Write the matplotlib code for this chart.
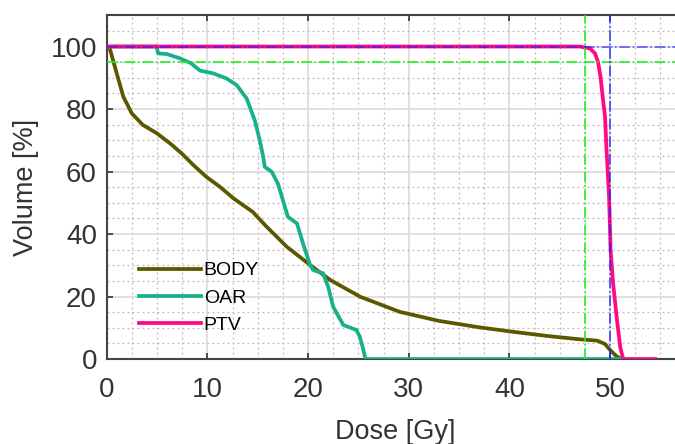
import matplotlib
matplotlib.use("Agg")
import matplotlib.pyplot as plt
from matplotlib.ticker import MultipleLocator

plt.rcParams['font.family'] = ['Liberation Sans', 'DejaVu Sans']

# DVH curves (dose in Gy, volume in %)
body_dose = [0, 0.3, 1.0, 1.65, 2.5, 3.6, 5.0, 6.3, 7.45, 8.6, 9.9, 11.25, 12.6, 14.5,
             15.9, 17.9, 20.2, 22.2, 25.2, 29.1, 33.0, 37.1, 40.4, 43.7, 47.0, 48.7,
             49.5, 50.0, 50.6, 51.1]
body_vol = [100, 99.5, 91.4, 84, 78.6, 74.9, 72.2, 69, 65.8, 62.1, 58.3, 55.1, 51.4, 47.1,
            42.3, 35.9, 30.1, 25.3, 19.9, 15.1, 12.2, 10.1, 8.7, 7.4, 6.3, 5.9,
            4.8, 2.9, 1.0, 0]

oar_dose = [0, 4.97, 5.1, 5.96, 7.3, 8.4, 9.27, 10.6, 11.9, 12.9, 13.9, 14.7, 15.2, 15.55,
            15.7, 16.4, 17.0, 17.2, 18.0, 18.9, 19.5, 20.2, 20.5, 21.5, 22.0, 22.5,
            23.5, 24.8, 25.15, 25.5, 25.7, 51.2]
oar_vol = [100, 100, 97.8, 97.6, 96.2, 94.6, 92.3, 91.4, 89.8, 87.7, 83.4, 76.5, 70.1, 64.7,
           61.5, 59.9, 56.2, 54.1, 45.5, 43.4, 37, 30.1, 28.5, 27.4, 23.1, 16.7,
           10.9, 9.3, 7.1, 2.9, 0, 0]

ptv_dose = [0, 47.0, 48.0, 48.5, 48.8, 49.05, 49.3, 49.5, 49.65, 49.9, 50.05, 50.3,
            50.65, 51.0, 51.3, 54.5]
ptv_vol = [100, 100, 99.4, 97.8, 95.1, 90.3, 82.9, 77.5, 66.9, 51.9, 34.9, 24.2,
           13.5, 3.9, 0, 0]

# reference lines
d95_dose, d95_vol = 47.5, 95
presc_dose, presc_vol = 50, 100

fig = plt.figure(figsize=(6.75, 4.44), dpi=100)
# axes runs past the right edge of the picture, like the cropped original
ax = fig.add_axes([0.158, 0.1914, 0.895, 0.7742])

ax.plot(body_dose, body_vol, color='#5b5800', lw=2.7, label='BODY', zorder=3)
ax.plot(oar_dose, oar_vol, color='#18b08a', lw=2.7, label='OAR', zorder=3)
ax.plot(ptv_dose, ptv_vol, color='#ff0a80', lw=2.7, label='PTV', zorder=4)

ax.axvline(d95_dose, color='#22ee22', lw=1.2, ls='-.', zorder=5)
ax.axhline(d95_vol, color='#22ee22', lw=1.2, ls='-.', zorder=5)
ax.axvline(presc_dose, color='#2222ff', lw=1.2, ls='-.', zorder=5, alpha=0.85)
ax.axhline(presc_vol, color='#2222ff', lw=1.2, ls='-.', zorder=5, alpha=0.7)

ax.set_xlim(0, 60)
ax.set_ylim(0, 110)
ax.set_xticks([0, 10, 20, 30, 40, 50])
ax.set_yticks([0, 20, 40, 60, 80, 100])
ax.xaxis.set_minor_locator(MultipleLocator(2.5))
ax.yaxis.set_minor_locator(MultipleLocator(5))

ax.grid(True, which='major', color='#dddddd', lw=1.3, ls='-', zorder=0)
ax.grid(True, which='minor', color='#bbbbbb', lw=0.9, ls=(0, (1.5, 2.5)), zorder=0)
ax.set_axisbelow(True)

ax.tick_params(which='major', direction='in', length=4, width=1.2, colors='#333333',
               labelsize=20, top=True, right=True)
ax.tick_params(which='minor', length=0)
ax.tick_params(axis='x', pad=13)
ax.tick_params(axis='y', pad=7)
for s in ax.spines.values():
    s.set_color('#444444')
    s.set_linewidth(1.5)

ax.set_xlabel('Dose [Gy]', fontsize=19.5, color='#333333')
ax.xaxis.set_label_coords(0.477, -0.175)
ax.set_ylabel('Volume [%]', fontsize=19.5, color='#333333', labelpad=8)

ax.legend(loc='lower left', bbox_to_anchor=(0.04, 0.05), frameon=False, fontsize=14,
          handlelength=3.2, handletextpad=0.15, labelspacing=0.5, borderaxespad=0)

fig.savefig('out.png', dpi=100)
